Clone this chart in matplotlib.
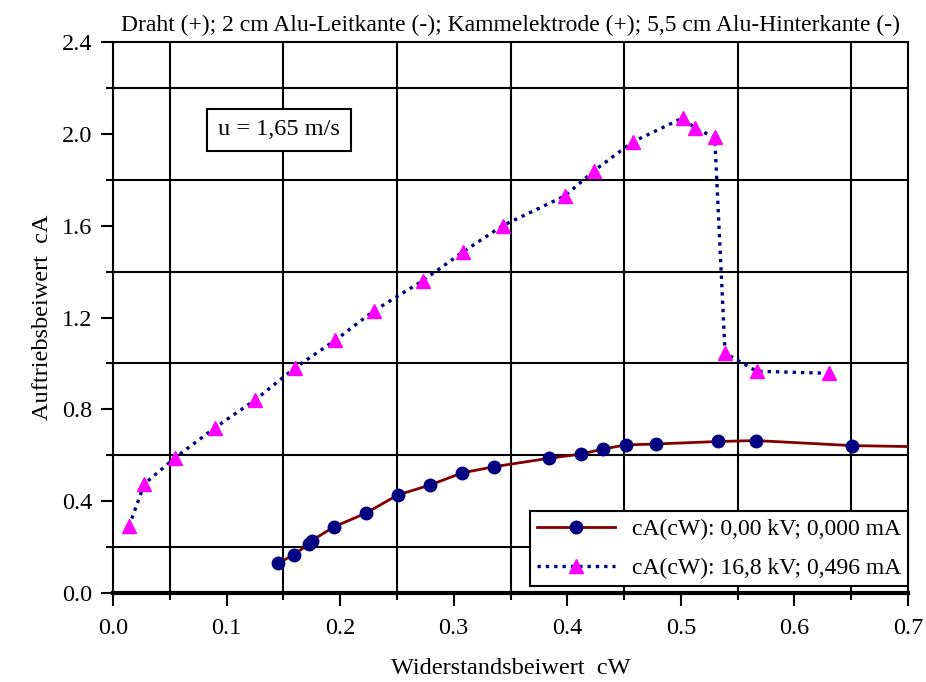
import matplotlib.pyplot as plt
from matplotlib.ticker import MultipleLocator

plt.rcParams['font.family'] = ['Liberation Serif', 'DejaVu Serif']

# cA(cW) ohne Spannung
cw_0kv = [0.1456, 0.159, 0.173, 0.175, 0.1945, 0.2228, 0.2507, 0.279, 0.3073, 0.3355,
          0.3839, 0.412, 0.4315, 0.4514, 0.478, 0.533, 0.566, 0.651, 0.70]
ca_0kv = [0.13, 0.166, 0.215, 0.228, 0.288, 0.348, 0.427, 0.47, 0.523, 0.55,
          0.587, 0.605, 0.627, 0.645, 0.649, 0.66, 0.664, 0.642, 0.638]

# cA(cW) bei 16,8 kV
cw_16kv = [0.0141, 0.0276, 0.0549, 0.0898, 0.125, 0.160, 0.1955, 0.230, 0.2727, 0.308,
           0.343, 0.398, 0.4238, 0.4576, 0.502, 0.512, 0.5298, 0.5389, 0.5667, 0.630]
ca_16kv = [0.29, 0.475, 0.59, 0.72, 0.84, 0.98, 1.10, 1.23, 1.36, 1.485,
           1.60, 1.73, 1.84, 1.965, 2.07, 2.025, 1.985, 1.045, 0.966, 0.957]

fig = plt.figure(figsize=(9.26, 6.82), dpi=100)
ax = fig.add_axes([0.122, 0.1305, 0.8586, 0.8079])

ax.plot(cw_0kv, ca_0kv, color='#800000', lw=2, marker='o', ms=9,
        mfc='#000080', mec='#000080', markevery=list(range(len(cw_0kv) - 1)),
        label='cA(cW): 0,00 kV; 0,000 mA', zorder=3)
ax.plot(cw_16kv, ca_16kv, color='#000080', lw=2.4, ls=(0, (1, 1.5)),
        marker='^', ms=10, mfc='#FF00FF', mec='#FF00FF',
        label='cA(cW): 16,8 kV; 0,496 mA', zorder=3)

ax.set_xlim(0, 0.7)
ax.set_ylim(0, 2.4)
ax.xaxis.set_major_locator(MultipleLocator(0.1))
ax.xaxis.set_minor_locator(MultipleLocator(0.05))
ax.yaxis.set_major_locator(MultipleLocator(0.4))
ax.yaxis.set_minor_locator(MultipleLocator(0.2))
ax.xaxis.set_major_formatter(lambda v, p: f'{v:.1f}')
ax.yaxis.set_major_formatter(lambda v, p: f'{v:.1f}')
ax.tick_params(which='major', direction='out', length=9, width=1.5, labelsize=17.5, pad=6)
ax.tick_params(axis='x', which='major', pad=9)
ax.tick_params(which='minor', direction='out', length=5, width=1.5)

# Gitter nur an den Zwischenstrichen
ax.grid(which='minor', color='black', lw=1.5)
ax.grid(which='major', visible=False)
for s in ['left', 'right', 'top']:
    ax.spines[s].set_linewidth(1.5)
ax.spines['bottom'].set_linewidth(3)

ax.set_title('Draht (+); 2 cm Alu-Leitkante (-); Kammelektrode (+); 5,5 cm Alu-Hinterkante (-)',
             fontsize=17, pad=8)
ax.set_xlabel('Widerstandsbeiwert  cW', fontsize=17.5, labelpad=14)
ax.set_ylabel('Auftriebsbeiwert  cA', fontsize=17.5, labelpad=6)

ax.text(0.146, 2.017, 'u = 1,65 m/s', fontsize=17.5, ha='center', va='center',
        bbox=dict(boxstyle='square,pad=0.45', fc='white', ec='black', lw=1.5), zorder=4)

leg = ax.legend(loc='lower right', bbox_to_anchor=(1.0, 0.012), fontsize=17,
                frameon=True, fancybox=False, edgecolor='black', framealpha=1,
                handlelength=3.3, handletextpad=0.7, borderaxespad=0,
                labelspacing=0.75, borderpad=0.3)
leg.get_frame().set_linewidth(1.5)

fig.savefig('out.png', dpi=100)
